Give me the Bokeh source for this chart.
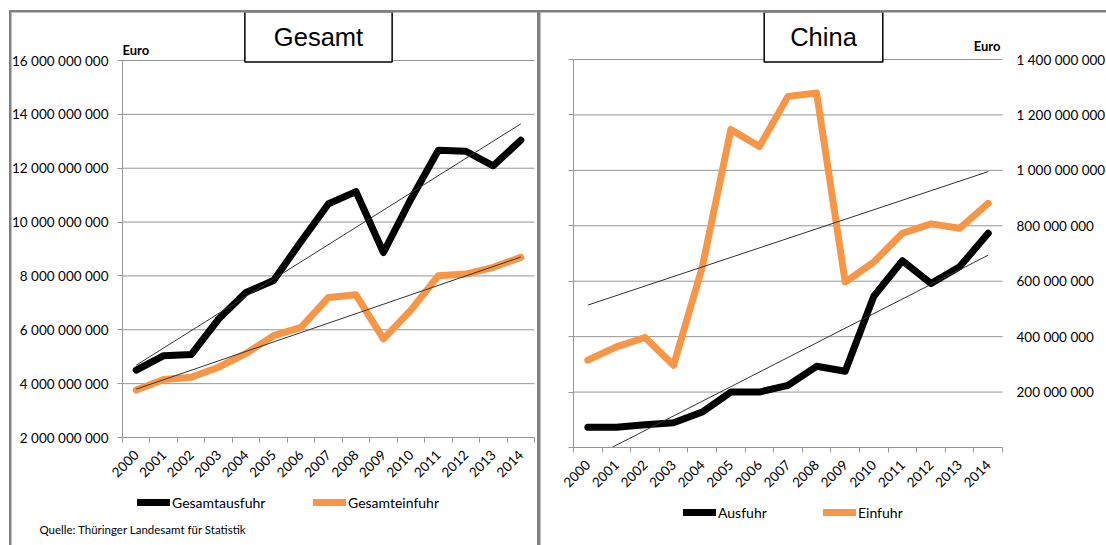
import numpy as np
from math import pi
from bokeh.plotting import figure
from bokeh.models import (Range1d, FixedTicker, Label, Legend, LegendItem, LinearAxis,
                          CustomJSTickFormatter)
from bokeh.layouts import row
from bokeh.embed import file_html
from bokeh.resources import INLINE

# ---------------- data ----------------
years = [str(y) for y in range(2000, 2015)]

gesamt_ausfuhr = [4.50e9, 5.04e9, 5.08e9, 6.40e9, 7.39e9, 7.83e9, 9.28e9, 10.68e9,
                  11.13e9, 8.87e9, 10.85e9, 12.67e9, 12.63e9, 12.09e9, 13.04e9]
gesamt_einfuhr = [3.76e9, 4.15e9, 4.24e9, 4.61e9, 5.12e9, 5.78e9, 6.09e9, 7.20e9,
                  7.30e9, 5.66e9, 6.73e9, 8.01e9, 8.07e9, 8.32e9, 8.69e9]

china_ausfuhr = [73e6, 73e6, 82e6, 89e6, 128e6, 200e6, 200e6, 224e6,
                 293e6, 275e6, 546e6, 674e6, 592e6, 652e6, 773e6]
china_einfuhr = [315e6, 363e6, 397e6, 297e6, 650e6, 1147e6, 1086e6, 1267e6,
                 1279e6, 597e6, 669e6, 773e6, 807e6, 791e6, 881e6]

gesamt_ticks = [2e9, 4e9, 6e9, 8e9, 10e9, 12e9, 14e9, 16e9]
china_ticks = [0, 2e8, 4e8, 6e8, 8e8, 10e8, 12e8, 14e8]

# ---------------- style ----------------
BLACK = "#000000"
ORANGE = "#F79646"
GRID = "#969696"
FONT = "Lato"
TICK_SIZE = "13.5px"

xs = list(range(len(years)))
x_lo, x_hi = -0.5, len(years) - 0.5

space_fmt = CustomJSTickFormatter(code="""
    if (tick == 0) { return ""; }
    return tick.toFixed(0).replace(/\\B(?=(\\d{3})+(?!\\d))/g, " ");
""")
empty_fmt = CustomJSTickFormatter(code="return '';")


def padded_range(lo, hi, span_px, pad_lo_px, pad_hi_px):
    # plot area lo..hi covers span_px; the frame extends over the margins as well
    per_px = (hi - lo) / span_px
    return Range1d(lo - pad_lo_px * per_px, hi + pad_hi_px * per_px)


def base_fig(w, h, xr, yr):
    p = figure(width=w, height=h, x_range=xr, y_range=yr,
               output_backend="svg", toolbar_location=None,
               min_border_left=0, min_border_right=0, min_border_top=0, min_border_bottom=0,
               background_fill_color="white", border_fill_color="white")
    p.outline_line_color = None
    p.xgrid.visible = False
    p.ygrid.visible = False
    return p


def style_xaxis(p, y_at):
    ax = p.xaxis[0]
    ax.fixed_location = y_at
    ax.bounds = (x_lo, x_hi)
    ax.ticker = FixedTicker(ticks=xs, minor_ticks=[i - 0.5 for i in range(len(years) + 1)])
    ax.major_label_overrides = {i: years[i] for i in xs}
    ax.major_tick_line_color = None
    ax.major_tick_out = 0
    ax.major_tick_in = 0
    ax.minor_tick_line_color = GRID
    ax.minor_tick_out = 5
    ax.minor_tick_in = 0
    ax.axis_line_color = GRID
    ax.major_label_orientation = pi / 4
    ax.major_label_standoff = 10
    ax.major_label_text_font = FONT
    ax.major_label_text_font_size = TICK_SIZE
    ax.major_label_text_color = "#000000"


def add_grid(p, ticks):
    p.segment(x0=[x_lo] * len(ticks), x1=[x_hi] * len(ticks), y0=ticks, y1=ticks,
              line_color=GRID, line_width=1)


def add_trend(p, vals, floor=None):
    k, d = np.polyfit(xs, vals, 1)
    x0 = xs[0]
    if floor is not None and k * x0 + d < floor:
        x0 = (floor - d) / k
    x1 = xs[-1]
    p.line([x0, x1], [k * x0 + d, k * x1 + d], line_color="#333333", line_width=1)


def add_legend_item(p, label, renderer, vx, vy):
    leg = Legend(items=[LegendItem(label=label, renderers=[renderer])],
                 location=(vx, vy), orientation="horizontal", padding=0, margin=0,
                 border_line_color=None, background_fill_alpha=0,
                 glyph_width=33, glyph_height=20, label_height=20, label_standoff=2,
                 label_text_font=FONT, label_text_font_size="14px",
                 label_text_color="#000000")
    p.add_layout(leg)


# ---------------- left: Gesamt ----------------
p1 = base_fig(526, 533,
              padded_range(x_lo, x_hi, 412, 111, 3),
              padded_range(gesamt_ticks[0], gesamt_ticks[-1], 377, 108, 48))
add_grid(p1, gesamt_ticks)
style_xaxis(p1, gesamt_ticks[0])
ya = p1.yaxis[0]
ya.fixed_location = x_lo
ya.ticker = FixedTicker(ticks=gesamt_ticks)
ya.bounds = (gesamt_ticks[0], gesamt_ticks[-1])
ya.formatter = space_fmt
ya.axis_line_color = GRID
ya.major_tick_line_color = GRID
ya.major_tick_out = 5
ya.major_tick_in = 0
ya.minor_tick_line_color = None
ya.major_label_standoff = 9
ya.major_label_text_font = FONT
ya.major_label_text_font_size = TICK_SIZE
ya.major_label_text_color = "#000000"

r_ga = p1.line(xs, gesamt_ausfuhr, line_color=BLACK, line_width=7,
               line_join="round", line_cap="round")
r_ge = p1.line(xs, gesamt_einfuhr, line_color=ORANGE, line_width=7,
               line_join="round", line_cap="round")
add_trend(p1, gesamt_ausfuhr)
add_trend(p1, gesamt_einfuhr)

add_legend_item(p1, "Gesamtausfuhr", r_ga, 126, 33)
add_legend_item(p1, "Gesamteinfuhr", r_ge, 302, 33)

p1.add_layout(Label(x=307, y=508.5, x_units="screen", y_units="screen", text="Gesamt",
                    text_font="Liberation Sans", text_font_size="25.5px",
                    text_color="#000000",
                    text_align="center", text_baseline="middle",
                    border_line_color="black", border_line_width=1.5,
                    background_fill_color="white", padding=(29, 29, 11, 11)))
p1.add_layout(Label(x=111, y=496, x_units="screen", y_units="screen", text="Euro",
                    text_font=FONT, text_font_size="13px", text_font_style="bold",
                    text_color="#000000",
                    text_align="left", text_baseline="middle"))
p1.add_layout(Label(x=28, y=16, x_units="screen", y_units="screen",
                    text="Quelle: Thüringer Landesamt für Statistik",
                    text_font=FONT, text_font_size="11.5px", text_color="#000000",
                    text_align="left", text_baseline="middle"))

# ---------------- right: China ----------------
p2 = base_fig(566, 533,
              padded_range(x_lo, x_hi, 429, 33, 104),
              padded_range(china_ticks[0], china_ticks[-1], 388, 98, 47))
add_grid(p2, china_ticks)
style_xaxis(p2, china_ticks[0])
la = p2.yaxis[0]
la.fixed_location = x_lo
la.ticker = FixedTicker(ticks=china_ticks)
la.bounds = (china_ticks[0], china_ticks[-1])
la.formatter = empty_fmt
la.axis_line_color = GRID
la.major_tick_line_color = GRID
la.major_tick_out = 5
la.major_tick_in = 0
la.minor_tick_line_color = None
la.major_label_text_font_size = "0px"
la.major_label_standoff = 0

ra = LinearAxis(ticker=FixedTicker(ticks=china_ticks), formatter=space_fmt,
                fixed_location=x_hi)
ra.bounds = (china_ticks[0], china_ticks[-1])
ra.axis_line_color = None
ra.major_tick_line_color = None
ra.minor_tick_line_color = None
ra.major_tick_out = 0
ra.major_tick_in = 0
ra.major_label_standoff = 14
ra.major_label_text_font = FONT
ra.major_label_text_font_size = TICK_SIZE
ra.major_label_text_color = "#000000"
p2.add_layout(ra, "right")

r_ca = p2.line(xs, china_ausfuhr, line_color=BLACK, line_width=7,
               line_join="round", line_cap="round")
r_ce = p2.line(xs, china_einfuhr, line_color=ORANGE, line_width=7,
               line_join="round", line_cap="round")
add_trend(p2, china_ausfuhr, floor=china_ticks[0])
add_trend(p2, china_einfuhr, floor=china_ticks[0])

add_legend_item(p2, "Ausfuhr", r_ca, 143, 23)
add_legend_item(p2, "Einfuhr", r_ce, 283, 23)

p2.add_layout(Label(x=283, y=508.5, x_units="screen", y_units="screen", text="China",
                    text_font="Liberation Sans", text_font_size="25.5px",
                    text_color="#000000",
                    text_align="center", text_baseline="middle",
                    border_line_color="black", border_line_width=1.5,
                    background_fill_color="white", padding=(26, 26, 11, 11)))
p2.add_layout(Label(x=460, y=500, x_units="screen", y_units="screen", text="Euro",
                    text_font=FONT, text_font_size="13px", text_font_style="bold",
                    text_color="#000000",
                    text_align="right", text_baseline="middle"))

p1.margin = (2, 3, 0, 2)
p2.margin = (2, 0, 0, 0)
layout = row(p1, p2, margin=(10, 0, 0, 9), styles={"background-color": "#808080"})

open("out.html", "w").write(file_html(layout, INLINE))
